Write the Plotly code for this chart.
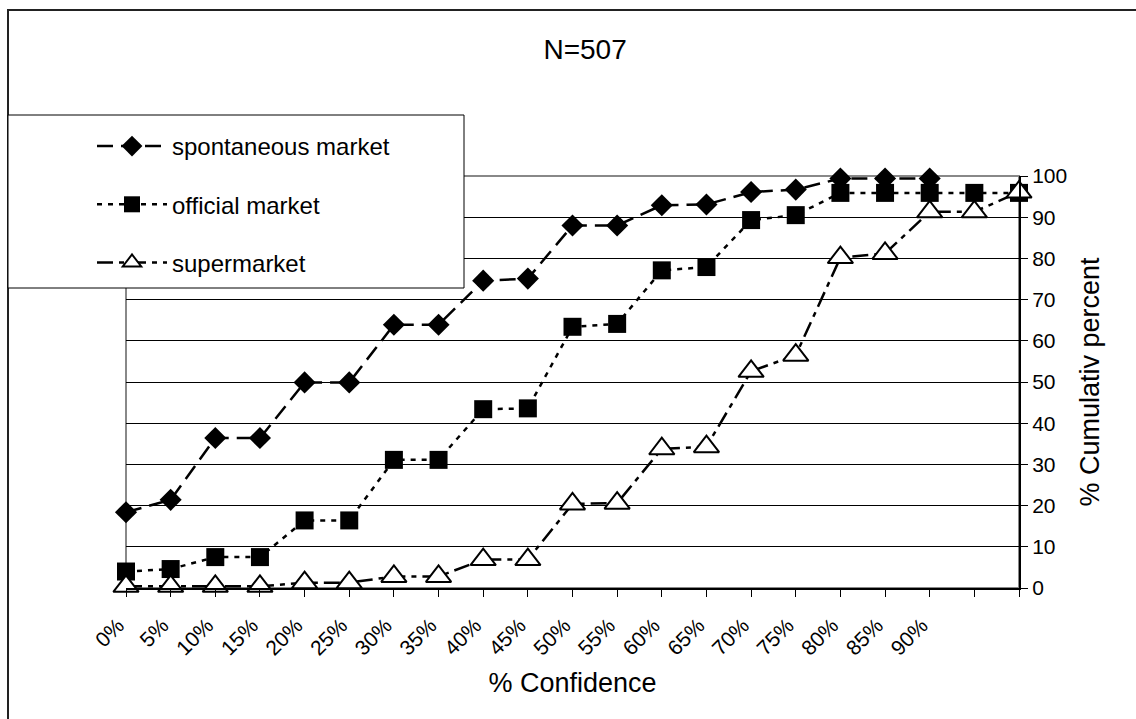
import plotly.graph_objects as go

# Confidence levels (x categories) and the labels printed under the axis
confidence = [0, 5, 10, 15, 20, 25, 30, 35, 40, 45, 50, 55, 60, 65, 70, 75, 80, 85, 90, 95, 100]
tick_labels = ["0%", "5%", "10%", "15%", "20%", "25%", "30%", "35%", "40%", "45%",
               "50%", "55%", "60%", "65%", "70%", "75%", "80%", "85%", "90%", "", ""]

# Cumulative percent per market type
spontaneous = [18.4, 21.4, 36.4, 36.4, 49.9, 49.9, 63.9, 63.9, 74.6, 75.1,
               88.0, 88.0, 92.9, 93.1, 96.1, 96.7, 99.4, 99.4, 99.4]
official = [4.0, 4.6, 7.5, 7.5, 16.4, 16.4, 31.1, 31.1, 43.4, 43.6,
            63.4, 64.1, 77.1, 77.9, 89.3, 90.5, 95.9, 95.9, 95.9, 95.9, 95.9]
supermarket = [0.4, 0.4, 0.4, 0.4, 1.3, 1.3, 2.8, 2.8, 6.9, 6.9,
               20.4, 20.6, 33.8, 34.3, 52.6, 56.5, 80.2, 81.2, 91.3, 91.3, 96.1]

W, H = 1136, 719
ML, MR, MT, MB = 126, 117, 176, 131
PL, PR, PT, PB = ML, W - MR, MT, H - MB


def px_x(x):
    return (x - PL) / (PR - PL)


def px_y(y):
    return (PB - y) / (PB - PT)


FONT = "Liberation Sans, Arial, sans-serif"

fig = go.Figure()

fig.add_trace(go.Scatter(
    x=confidence[:len(spontaneous)], y=spontaneous, name="spontaneous market",
    mode="lines+markers", legendgroup="a", cliponaxis=False,
    line=dict(color="black", width=2.5, dash="16px,8px"),
    marker=dict(symbol="diamond", size=17, color="black"),
))
fig.add_trace(go.Scatter(
    x=confidence, y=official, name="official market",
    mode="lines+markers", legendgroup="b", cliponaxis=False,
    line=dict(color="black", width=2.5, dash="5px,6px"),
    marker=dict(symbol="square", size=18, color="black"),
))
fig.add_trace(go.Scatter(
    x=confidence, y=supermarket, name="supermarket",
    mode="lines+markers", legendgroup="c", cliponaxis=False,
    line=dict(color="black", width=2.5, dash="16px,6px,5px,6px"),
    marker=dict(symbol="triangle-up", size=22, color="white",
                line=dict(color="black", width=2)),
))

shapes = [
    # outer chart frame
    dict(type="rect", xref="paper", yref="paper",
         x0=px_x(8), x1=px_x(1145), y0=px_y(730), y1=px_y(10),
         line=dict(color="#222", width=2), fillcolor="rgba(0,0,0,0)", layer="below"),
    # plot area border
    dict(type="rect", xref="paper", yref="paper", x0=0, x1=1, y0=0, y1=1,
         line=dict(color="#888", width=2), fillcolor="rgba(0,0,0,0)", layer="between"),
    # legend box
    dict(type="rect", xref="paper", yref="paper",
         x0=px_x(8), x1=px_x(464), y0=px_y(288), y1=px_y(115),
         line=dict(color="black", width=1), fillcolor="white", layer="above"),
]

fig.update_layout(
    width=W, height=H, autosize=False,
    margin=dict(l=ML, r=MR, t=MT, b=MB, pad=0),
    paper_bgcolor="white", plot_bgcolor="white",
    font=dict(family=FONT, color="black"),
    title=dict(text="N=507", x=584 / W, y=1 - 49 / H, xref="paper", yref="container",
               xanchor="center", yanchor="middle", font=dict(size=28, family=FONT)),
    shapes=shapes,
    showlegend=True,
    legend=dict(
        x=px_x(92), y=px_y(124), xanchor="left", yanchor="top",
        bgcolor="rgba(0,0,0,0)", borderwidth=0,
        font=dict(size=24, family=FONT),
        itemwidth=70, traceorder="grouped", tracegroupgap=24,
    ),
    xaxis=dict(
        range=[0, 100], tickmode="array", tickvals=confidence, ticktext=tick_labels,
        tickangle=-45, ticks="outside", ticklen=7, tickcolor="black", tickwidth=1,
        ticklabelstandoff=8, ticklabelshift=-8,
        showline=True, linecolor="black", linewidth=2, showgrid=False, zeroline=False,
        tickfont=dict(size=21, family=FONT),
        title=dict(text="% Confidence", font=dict(size=27, family=FONT), standoff=14),
    ),
    yaxis=dict(
        side="right", range=[0, 100], tickmode="array", tickvals=list(range(0, 101, 10)),
        ticks="outside", ticklen=7, tickcolor="black", tickwidth=1,
        showline=True, linecolor="black", linewidth=2,
        showgrid=True, gridcolor="black", gridwidth=1, zeroline=False,
        tickfont=dict(size=21, family=FONT),
        title=dict(text="% Cumulativ percent", font=dict(size=27, family=FONT), standoff=14),
    ),
)

fig.write_html("out.html")
